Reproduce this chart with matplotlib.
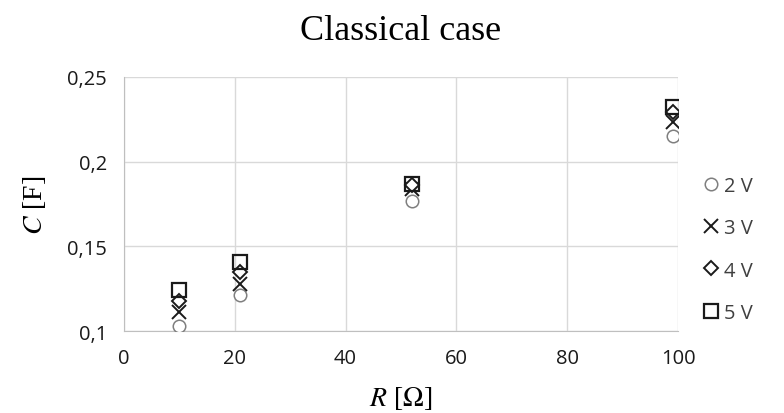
import matplotlib
matplotlib.use("Agg")
import matplotlib.pyplot as plt
from matplotlib.ticker import FuncFormatter, MultipleLocator

# resistance [Ohm] and capacitance [F] per supply voltage
R = [10, 21, 52, 99]
C_2V = [0.103, 0.121, 0.177, 0.215]
C_3V = [0.111, 0.128, 0.184, 0.2235]
C_4V = [0.118, 0.135, 0.186, 0.229]
C_5V = [0.124, 0.141, 0.187, 0.232]
labels = ["2 V", "3 V", "4 V", "5 V"]

plt.rcParams["mathtext.fontset"] = "stix"

fig = plt.figure(figsize=(7.84, 4.14), dpi=100)
ax = fig.add_axes([0.158, 0.198, 0.707, 0.614])

ax.plot(R, C_2V, "o", ms=9, mfc="white", mec="#7f7f7f", mew=1.1, label=labels[0], zorder=3)
ax.plot(R, C_3V, "x", ms=9.5, mec="#1a1a1a", mew=1.4, label=labels[1], zorder=4)
ax.plot(R, C_4V, "D", ms=7, mfc="white", mec="#1a1a1a", mew=1.4, label=labels[2], zorder=5)
ax.plot(R, C_5V, "s", ms=9.5, mfc="none", mec="#1a1a1a", mew=1.6, label=labels[3], zorder=6)

ax.set_xlim(0, 100)
ax.set_ylim(0.1, 0.25)
ax.xaxis.set_major_locator(MultipleLocator(20))
ax.yaxis.set_major_locator(MultipleLocator(0.05))
ax.yaxis.set_major_formatter(FuncFormatter(lambda v, p: f"{v:g}".replace(".", ",")))
ax.grid(True, color="#d9d9d9", lw=1)
ax.set_axisbelow(True)
for s in ["top", "right"]:
    ax.spines[s].set_visible(False)
for s in ["left", "bottom"]:
    ax.spines[s].set_color("#bfbfbf")
ax.tick_params(length=0, labelsize=14.5, labelcolor="#1a1a1a")
ax.tick_params(axis="y", pad=12)
ax.tick_params(axis="x", pad=12)
for t in ax.get_xticklabels() + ax.get_yticklabels():
    t.set_family(["Open Sans", "DejaVu Sans"])

ax.set_xlabel(r"$R$ [$\Omega$]", fontsize=20, family="Liberation Serif", labelpad=12)
ax.set_ylabel(r"$C$ [F]", fontsize=20, family="Liberation Serif", labelpad=14)
ax.set_title("Classical case", fontsize=26, family="Liberation Serif", pad=27)

fig.legend(loc="center left", bbox_to_anchor=(0.872, 0.395), frameon=False,
           prop={"family": "Open Sans", "size": 14.5}, labelcolor="#404040",
           handletextpad=0.2, labelspacing=1.1, handlelength=0.9, markerscale=1.0)

fig.savefig("out.png", dpi=100)
